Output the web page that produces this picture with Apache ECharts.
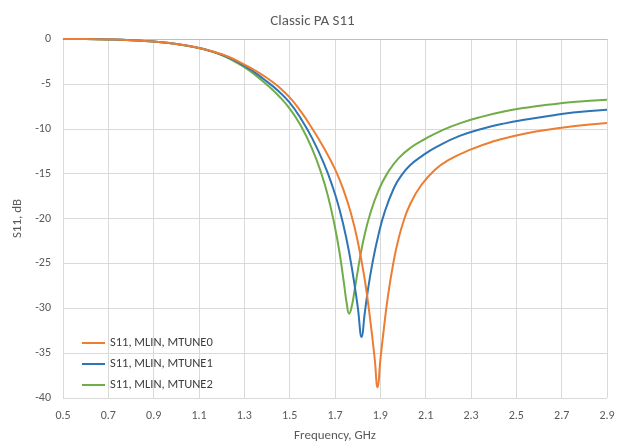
<!DOCTYPE html>
<html>
<head>
<meta charset="utf-8">
<title>Classic PA S11</title>
<script src="https://cdn.jsdelivr.net/npm/echarts@6/dist/echarts.min.js"></script>
<style>
  html, body {
    margin: 0;
    padding: 0;
    background: #fff;
  }
  #main {
    width: 625px;
    height: 447px;
  }
</style>
</head>
<body>
<div id="main"></div>
<script>
// frequency axis, GHz
const freqMin = 0.5;
const freqMax = 2.9;
const freqStep = 0.2;

// S11 axis, dB
const dbMin = -40;
const dbMax = 0;
const dbStep = 5;

const seriesNames = ['S11, MLIN, MTUNE0', 'S11, MLIN, MTUNE1', 'S11, MLIN, MTUNE2'];
const seriesColors = ['#ED7D31', '#2E75B6', '#70AD47'];

// MTUNE0 (orange)
const freq0 = [0.5, 0.6, 0.7, 0.8, 0.9, 1.0, 1.1, 1.15, 1.2, 1.25, 1.3, 1.35, 1.4, 1.45, 1.5, 1.55, 1.6, 1.65, 1.7, 1.74, 1.77, 1.8, 1.83, 1.855, 1.875, 1.888, 1.9, 1.915, 1.935, 1.96, 1.98, 2.0, 2.03, 2.08, 2.14, 2.2, 2.3, 2.4, 2.5, 2.6, 2.7, 2.8, 2.9];
const s11_0 = [0, -0.01, -0.05, -0.13, -0.28, -0.55, -1.0, -1.3, -1.7, -2.2, -2.85, -3.55, -4.35, -5.3, -6.5, -8.1, -10.0, -12.1, -14.5, -17.0, -19.4, -22.5, -26.6, -31.2, -35.6, -38.8, -35.8, -32.4, -28.4, -24.6, -22.3, -20.5, -18.5, -16.3, -14.6, -13.5, -12.3, -11.4, -10.75, -10.25, -9.88, -9.58, -9.35];

// MTUNE1 (blue)
const freq1 = [0.5, 0.6, 0.7, 0.8, 0.9, 1.0, 1.1, 1.15, 1.2, 1.25, 1.3, 1.35, 1.4, 1.45, 1.5, 1.55, 1.6, 1.65, 1.69, 1.72, 1.75, 1.775, 1.8, 1.818, 1.83, 1.845, 1.865, 1.89, 1.92, 1.96, 1.99, 2.03, 2.08, 2.15, 2.25, 2.35, 2.45, 2.55, 2.65, 2.75, 2.9];
const s11_1 = [0, -0.01, -0.05, -0.13, -0.28, -0.55, -1.0, -1.33, -1.75, -2.3, -3.0, -3.8, -4.75, -5.8, -7.1, -8.9, -11.1, -13.8, -16.5, -19.0, -22.2, -25.6, -29.8, -33.2, -30.8, -28.0, -25.0, -22.0, -19.2, -16.6, -15.3, -14.1, -13.1, -12.0, -10.8, -10.0, -9.4, -8.95, -8.55, -8.2, -7.87];

// MTUNE2 (green)
const freq2 = [0.5, 0.6, 0.7, 0.8, 0.9, 1.0, 1.1, 1.15, 1.2, 1.25, 1.3, 1.35, 1.4, 1.45, 1.5, 1.55, 1.6, 1.64, 1.67, 1.7, 1.72, 1.74, 1.752, 1.762, 1.772, 1.787, 1.81, 1.83, 1.855, 1.89, 1.93, 1.98, 2.04, 2.1, 2.17, 2.25, 2.35, 2.45, 2.55, 2.65, 2.75, 2.9];
const s11_2 = [0, -0.01, -0.05, -0.13, -0.28, -0.55, -1.0, -1.35, -1.8, -2.4, -3.15, -4.05, -5.1, -6.3, -7.75, -9.7, -12.3, -15.0, -17.6, -21.0, -23.8, -27.3, -29.5, -30.6, -30.0, -27.9, -24.4, -21.9, -19.5, -17.0, -15.0, -13.3, -12.0, -11.1, -10.2, -9.4, -8.65, -8.05, -7.62, -7.3, -7.03, -6.76];

const freqLists = [freq0, freq1, freq2];
const s11Lists = [s11_0, s11_1, s11_2];

const fontFamily = 'Calibri, Carlito, "Liberation Sans", sans-serif';
const textColor = '#595959';

// ticks start from min when interval is set, so the x scale runs from 0
// and the labels add freqMin back on
const toPairs = (freqs, values) => freqs.map((f, i) => [f - freqMin, values[i]]);

var chartDom = document.getElementById('main');
var myChart = echarts.init(chartDom, null, { renderer: 'canvas' });
var option;

option = {
  animation: false,
  backgroundColor: '#fff',
  title: {
    text: 'Classic PA S11',
    left: 'center',
    top: 9,
    textStyle: {
      fontFamily: fontFamily,
      fontSize: 15,
      fontWeight: 'normal',
      color: textColor
    }
  },
  grid: {
    left: 63,
    right: 18,
    top: 39,
    bottom: 47,
    containLabel: false
  },
  legend: {
    orient: 'vertical',
    left: 77,
    top: 331,
    icon: 'rect',
    itemWidth: 23,
    itemHeight: 2,
    itemGap: 7,
    data: seriesNames,
    textStyle: {
      fontFamily: fontFamily,
      fontSize: 12.5,
      lineHeight: 14,
      color: '#404040'
    }
  },
  xAxis: {
    type: 'value',
    min: 0,
    max: freqMax - freqMin,
    interval: freqStep,
    name: 'Frequency, GHz',
    nameLocation: 'middle',
    nameGap: 31,
    nameTextStyle: {
      fontFamily: fontFamily,
      fontSize: 13,
      color: textColor
    },
    axisLine: { show: true, lineStyle: { color: '#bfbfbf', width: 1 } },
    axisTick: { show: false },
    axisLabel: {
      margin: 12,
      fontFamily: fontFamily,
      fontSize: 12,
      color: textColor,
      formatter: (v) => (v + freqMin).toFixed(1)
    },
    splitLine: { show: true, lineStyle: { color: '#d9d9d9', width: 1 } }
  },
  yAxis: {
    type: 'value',
    min: dbMin,
    max: dbMax,
    interval: dbStep,
    name: 'S11, dB',
    nameLocation: 'middle',
    nameGap: 35,
    nameTextStyle: {
      fontFamily: fontFamily,
      fontSize: 13,
      color: textColor
    },
    axisLine: { show: true, lineStyle: { color: '#d9d9d9', width: 1 } },
    axisTick: { show: false },
    axisLabel: {
      margin: 12,
      fontFamily: fontFamily,
      fontSize: 12,
      color: textColor
    },
    splitLine: { show: true, lineStyle: { color: '#d9d9d9', width: 1 } }
  },
  series: seriesNames.map((name, i) => ({
    name: name,
    type: 'line',
    data: toPairs(freqLists[i], s11Lists[i]),
    smooth: 0.5,
    showSymbol: false,
    symbol: 'none',
    color: seriesColors[i],
    lineStyle: { width: 2, color: seriesColors[i] },
    z: 3 - i
  }))
};

option && myChart.setOption(option);
</script>
</body>
</html>
